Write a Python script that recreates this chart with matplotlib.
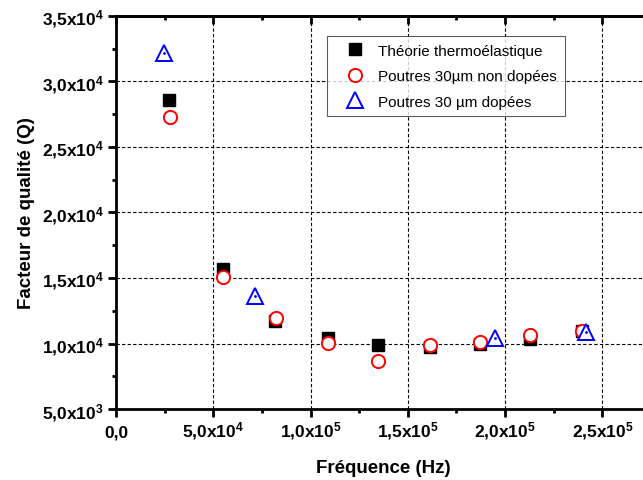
import matplotlib
matplotlib.use("Agg")
import matplotlib.pyplot as plt
from matplotlib.ticker import FixedLocator, MultipleLocator

plt.rcParams['font.family'] = ['Liberation Sans', 'DejaVu Sans']
plt.rcParams['mathtext.fontset'] = 'custom'
plt.rcParams['mathtext.rm'] = 'Liberation Sans:bold'
plt.rcParams['mathtext.bf'] = 'Liberation Sans:bold'
plt.rcParams['mathtext.it'] = 'Liberation Sans:bold'

# data
f_theorie = [27400, 54900, 81950, 109200, 134600, 161500, 186900, 213000, 239500]
q_theorie = [28600, 15650, 11750, 10450, 9870, 9750, 9950, 10350, 10950]

f_nondope = [27800, 54900, 82000, 109200, 134600, 161500, 186900, 213000, 239500]
q_nondope = [27300, 15050, 11920, 10020, 8650, 9920, 10150, 10650, 10980]

f_dope = [24700, 71700, 194600, 241600]
q_dope = [32150, 13600, 10420, 10850]

xticks = [0, 5e4, 1e5, 1.5e5, 2e5, 2.5e5]
xticklabels = ['0,0', r'5,0x10$^{4}$', r'1,0x10$^{5}$', r'1,5x10$^{5}$',
               r'2,0x10$^{5}$', r'2,5x10$^{5}$']
yticks = [5e3, 1e4, 1.5e4, 2e4, 2.5e4, 3e4, 3.5e4]
yticklabels = [r'5,0x10$^{3}$', r'1,0x10$^{4}$', r'1,5x10$^{4}$', r'2,0x10$^{4}$',
               r'2,5x10$^{4}$', r'3,0x10$^{4}$', r'3,5x10$^{4}$']

fig = plt.figure(figsize=(6.43, 4.81), dpi=100)
ax = fig.add_axes([0.1804, 0.1476, 0.832, 0.8171])

ax.plot(f_theorie, q_theorie, 's', color='black', markersize=8,
        label='Théorie thermoélastique', zorder=3)
ax.plot(f_nondope, q_nondope, 'o', markerfacecolor='white', markeredgecolor='red',
        markeredgewidth=1.4, markersize=9.5, label='Poutres 30µm non dopées', zorder=4)
ax.plot(f_dope, q_dope, '^', markerfacecolor='white', markeredgecolor='blue',
        markeredgewidth=1.4, markersize=11, label='Poutres 30 µm dopées', zorder=5)
ax.plot(f_dope, q_dope, '.', color='blue', markersize=2, zorder=6)

ax.set_xlim(0, 2.75e5)
ax.set_ylim(5e3, 3.5e4)
ax.xaxis.set_major_locator(FixedLocator(xticks))
ax.set_xticklabels(xticklabels)
ax.yaxis.set_major_locator(FixedLocator(yticks))
ax.set_yticklabels(yticklabels)
ax.xaxis.set_minor_locator(MultipleLocator(2.5e4))
ax.yaxis.set_minor_locator(MultipleLocator(2.5e3))

for lab in ax.get_xticklabels() + ax.get_yticklabels():
    lab.set_fontweight('bold')
    lab.set_fontsize(12.5)
for lab in ax.get_xticklabels():
    lab.set_verticalalignment('baseline')

ax.tick_params(which='major', direction='out', length=6, width=2, pad=3)
ax.tick_params(which='minor', direction='out', length=3, width=2)
ax.tick_params(axis='x', which='major', pad=13.5)
for spine in ax.spines.values():
    spine.set_linewidth(2)

# top axis: ticks pointing inwards, no labels
top = ax.secondary_xaxis('top')
top.xaxis.set_major_locator(FixedLocator(xticks))
top.xaxis.set_minor_locator(MultipleLocator(2.5e4))
top.tick_params(which='major', direction='in', length=6, width=2, labeltop=False)
top.tick_params(which='minor', direction='in', length=3, width=2)
top.spines['top'].set_linewidth(2)

ax.grid(True, which='major', color='black', linestyle=(0, (3, 2)), linewidth=0.8)

ax.set_xlabel('Fréquence (Hz)', fontsize=13.5, fontweight='bold', labelpad=13)
ax.set_ylabel('Facteur de qualité (Q)', fontsize=13.5, fontweight='bold', labelpad=5)

leg = ax.legend(loc='upper left', bbox_to_anchor=(0.394, 0.949), fontsize=11,
                frameon=True, fancybox=False, edgecolor='#333333',
                handletextpad=0.2, borderpad=0.5, labelspacing=0.75, handlelength=2.67,
                borderaxespad=0)
leg.get_frame().set_linewidth(0.8)

fig.savefig('out.png', dpi=100)
